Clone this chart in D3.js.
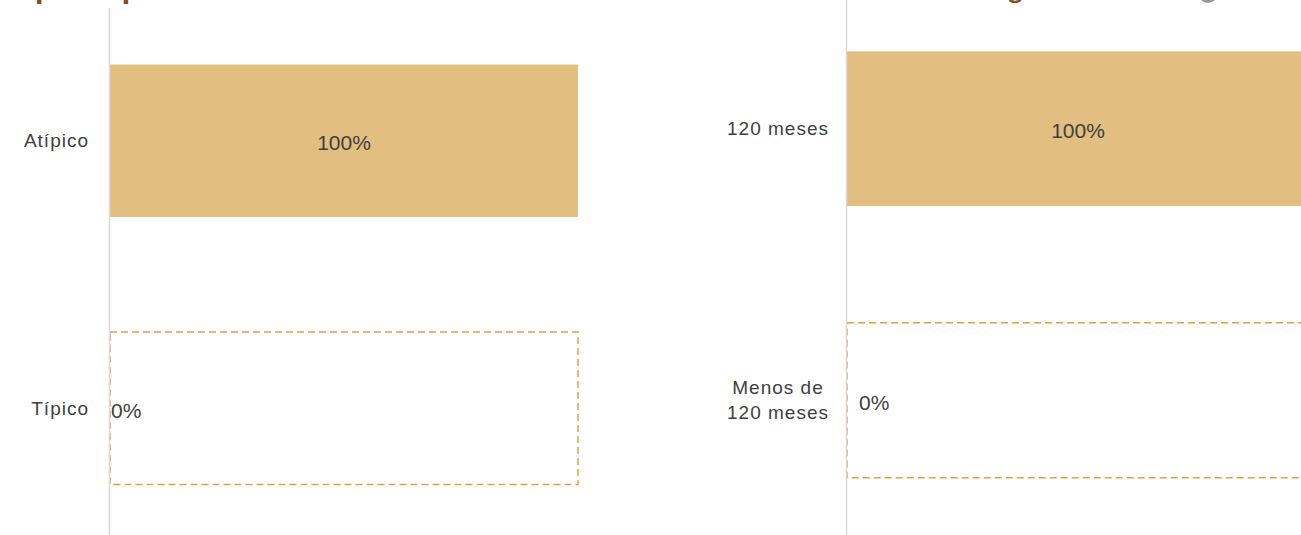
<!DOCTYPE html>
<html><head><meta charset="utf-8">
<script src="https://cdn.jsdelivr.net/npm/d3@7"></script>
<style>html,body{margin:0;padding:0;background:#fff;overflow:hidden}svg{display:block}</style>
</head><body>
<svg id="c" width="1301" height="535"></svg>
<script>
const leftCategories = ["Atípico", "Típico"];
const leftValues = [100, 0];
const rightCategories = ["120 meses", "Menos de 120 meses"];
const rightLabelLines = [["120 meses"], ["Menos de", "120 meses"]];
const rightValues = [100, 0];
const leftTitle = "Tipo de préstamo";
const rightTitle = "Plazo original";

const svg = d3.select("#c");
const FILL = "#E2BE80", DASH = "#E0A23F", AXIS = "#D9D9D9", TXT = "#404040";
const FONT = "'Liberation Sans', Arial, sans-serif";

// cut-off titles at the top (only descenders visible, as in the reference)
svg.append("text").attr("x", 9).attr("y", -3).attr("font-family", "'Open Sans', sans-serif")
  .attr("font-weight", 700).attr("font-size", 29).attr("fill", "#8B4A1E").text(leftTitle);
svg.append("text").attr("x", 906).attr("y", -3).attr("font-family", "'Open Sans', sans-serif")
  .attr("font-weight", 700).attr("font-size", 24).attr("fill", "#8B4A1E").text(rightTitle);
svg.append("circle").attr("cx", 1208).attr("cy", -7).attr("r", 10).attr("fill", "#9a9a9a");

function panel(cfg) {
  const x = d3.scaleLinear().domain([0, 100]).range(cfg.xr);
  const y = d3.scaleBand().domain(cfg.cats).range(cfg.yr).paddingInner(0.43).paddingOuter(0.215);
  const g = svg.append("g");
  const data = cfg.cats.map((c, i) => ({c, v: cfg.vals[i], lines: cfg.lines[i]}));

  // zero-value placeholders: dashed outline
  g.selectAll("rect.ph").data(data.filter(d => d.v === 0)).join("rect").attr("class", "ph")
    .attr("x", x(0)).attr("y", d => y(d.c)).attr("width", x(100) - x(0)).attr("height", y.bandwidth())
    .attr("fill", "none").attr("stroke", DASH).attr("stroke-width", 1.5).attr("stroke-dasharray", "7,4");

  g.selectAll("rect.bar").data(data.filter(d => d.v > 0)).join("rect").attr("class", "bar")
    .attr("x", x(0)).attr("y", d => y(d.c)).attr("width", d => x(d.v) - x(0)).attr("height", y.bandwidth())
    .attr("fill", FILL);

  // axis line
  g.append("line").attr("x1", cfg.xr[0] - 0.5).attr("x2", cfg.xr[0] - 0.5)
    .attr("y1", cfg.axisTop).attr("y2", 535).attr("stroke", AXIS).attr("stroke-width", 1.5);

  // category labels
  const lab = g.selectAll("text.cat").data(data).join("text").attr("class", "cat")
    .attr("font-family", FONT).attr("font-size", 19).attr("letter-spacing", 1).attr("fill", TXT)
    .attr("text-anchor", cfg.labelAnchor).attr("x", cfg.labelX)
    .attr("y", d => y(d.c) + y.bandwidth() / 2 - (d.lines.length - 1) * 12.5);
  lab.selectAll("tspan").data(d => d.lines).join("tspan")
    .attr("x", cfg.labelX).attr("dy", (l, i) => i === 0 ? "0.35em" : 25).text(l => l);

  // value labels
  g.selectAll("text.val").data(data).join("text").attr("class", "val")
    .attr("font-family", FONT).attr("font-size", 21).attr("fill", TXT)
    .attr("text-anchor", d => d.v > 0 ? "middle" : "start")
    .attr("x", d => d.v > 0 ? (x(0) + x(d.v)) / 2 : x(0) + cfg.zeroOffset)
    .attr("y", d => y(d.c) + y.bandwidth() / 2 + 2).attr("dy", "0.35em")
    .text(d => d.v + "%");
}

panel({cats: leftCategories, vals: leftValues, lines: leftCategories.map(c => [c]),
  xr: [110, 578], yr: [7, 542], axisTop: 8, labelX: 89, labelAnchor: "end", zeroOffset: 1});
panel({cats: rightCategories, vals: rightValues, lines: rightLabelLines,
  xr: [847, 1309], yr: [-7, 536], axisTop: 0, labelX: 778, labelAnchor: "middle", zeroOffset: 12});
</script>
</body></html>
